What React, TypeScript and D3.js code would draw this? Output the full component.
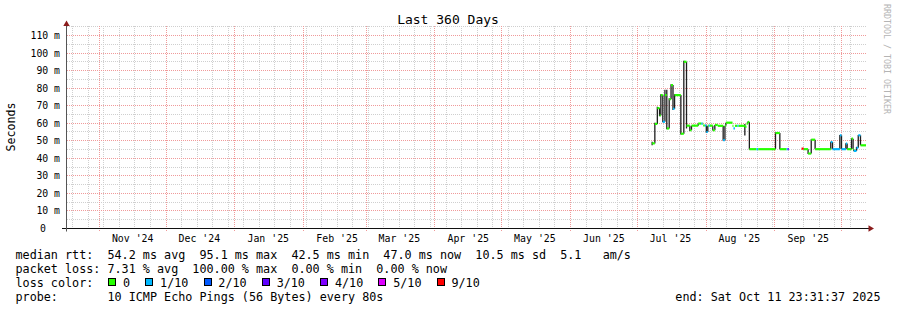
import React from 'react';
import * as d3 from 'd3';

const W = 897;
const H = 310;
const END_TIME = '2025-10-11 23:31:37';
const RANGE_DAYS = 360;
const TITLE = 'Last 360 Days';
const Y_TITLE = 'Seconds';
const WATERMARK = 'RRDTOOL / TOBI OETIKER';
const Y_MAX_MS = 115.1;
const Y_MAJOR_MS = [10, 20, 30, 40, 50, 60, 70, 80, 90, 100, 110];
const Y_MINOR_MS = [5, 15, 25, 35, 45, 55, 65, 75, 85, 95, 105, 115];
const Y_TICK_MS = [0, 10, 20, 30, 40, 50, 60, 70, 80, 90, 100, 110];
const Y_TICK_LABELS = ['0', '10 m', '20 m', '30 m', '40 m', '50 m', '60 m', '70 m', '80 m', '90 m', '100 m', '110 m'];

const LOSS_LABELS = ['0', '1/10', '2/10', '3/10', '4/10', '5/10', '9/10'];
const LOSS_COLORS = ['#26ff00', '#00b8ff', '#0059ff', '#5e00ff', '#7e00ff', '#dd00ff', '#ff0000'];

const LEGEND_LINES = [
  'median rtt:  54.2 ms avg  95.1 ms max  42.5 ms min  47.0 ms now  10.5 ms sd  5.1   am/s',
  'packet loss: 7.31 % avg  100.00 % max  0.00 % min  0.00 % now',
  'loss color:',
  'probe:       10 ICMP Echo Pings (56 Bytes) every 80s',
];
const END_LABEL = 'end: Sat Oct 11 23:31:37 2025';

// samples: time, median rtt (ms), lost pings (of 10), smoke low / high (ms)
const SAMPLE_TIMES = [
  '2025-07-07 18:00', '2025-07-08 23:00', '2025-07-10 02:00', '2025-07-11 02:00', '2025-07-11 16:00',
  '2025-07-12 13:00', '2025-07-13 12:00', '2025-07-14 08:00', '2025-07-15 10:00', '2025-07-16 06:00',
  '2025-07-17 03:00', '2025-07-17 20:00', '2025-07-20 16:00', '2025-07-22 00:00', '2025-07-23 05:00',
  '2025-07-24 17:00', '2025-07-25 11:00', '2025-07-28 11:00', '2025-07-29 21:00', '2025-07-30 12:00',
  '2025-07-30 17:00', '2025-07-31 11:00', '2025-08-01 03:00', '2025-08-01 19:00', '2025-08-02 06:00',
  '2025-08-02 18:00', '2025-08-04 01:00', '2025-08-04 23:00', '2025-08-06 07:00', '2025-08-08 17:00',
  '2025-08-09 12:00', '2025-08-09 22:00', '2025-08-12 22:00', '2025-08-13 08:00', '2025-08-14 00:00',
  '2025-08-15 02:00', '2025-08-15 16:00', '2025-08-18 11:00', '2025-08-19 05:00', '2025-08-19 20:00',
  '2025-08-20 12:00', '2025-08-23 16:00', '2025-08-24 12:00', '2025-09-01 06:00', '2025-09-03 05:00',
  '2025-09-06 05:00', '2025-09-06 18:00', '2025-09-07 06:00', '2025-09-12 23:00', '2025-09-14 00:00',
  '2025-09-15 22:00', '2025-09-17 08:00', '2025-09-19 02:00', '2025-09-26 03:00', '2025-09-26 22:00',
  '2025-09-30 05:00', '2025-09-30 23:00', '2025-10-02 22:00', '2025-10-03 12:00', '2025-10-05 11:00',
  '2025-10-06 04:00', '2025-10-06 12:00', '2025-10-07 17:00', '2025-10-08 12:00', '2025-10-09 12:00',
];
const MEDIAN_MS = [
  48.5, 59.6, 68.6, 64.4, 76.0,
  60.8, 76.0, 57.0, 73.7, 81.7,
  68.2, 76.0, 54.0, 95.0, 58.6,
  56.0, 58.6, 59.8, 59.8, 59.8,
  58.7, 58.7, 55.0, 58.6, 58.6,
  58.6, 56.0, 59.0, 58.5, 50.3,
  58.5, 60.3, 58.5, 57.0, 58.5,
  58.5, 58.5, 58.0, 59.8, 60.7,
  45.2, 45.2, 45.2, 54.4, 45.2,
  45.2, 45.2, null, 45.5, 45.2,
  42.7, 50.6, 45.2, 49.3, 45.2,
  53.1, 45.2, 48.4, 45.2, 51.2,
  45.2, 44.2, 46.0, 53.1, 47.4,
];
const LOSS_COUNT = [
  0, 0, 0, 0, 0,
  1, 0, 0, 0, 0,
  1, 0, 0, 0, 0,
  0, 0, 0, 1, 0,
  0, 1, 1, 0, 1,
  0, 0, 0, 0, 1,
  0, 0, 0, 1, 0,
  1, 0, 0, 0, 0,
  0, 1, 0, 0, 0,
  1, 3, null, 9, 0,
  0, 0, 0, 1, 1,
  1, 1, 1, 0, 0,
  0, 1, 1, 1, 0,
];
const SMOKE_LO_MS = [
  47.5, 48.5, 59.6, 64.0, 64.4,
  60.5, 60.8, 56.5, 57.0, 73.7,
  67.5, 68.2, 53.5, 54.0, 57.0,
  55.5, 56.0, 58.6, null, null,
  null, null, 54.5, 55.0, null,
  null, 55.8, 56.0, null, 50.0,
  50.3, 58.5, null, null, null,
  null, null, 53.0, null, 59.8,
  45.0, null, null, 45.2, 45.2,
  null, null, null, null, null,
  42.5, 42.7, 45.2, 45.2, 45.2,
  45.2, 45.2, 45.2, 45.2, 45.2,
  45.2, 44.0, 44.2, 46.0, 47.4,
];
const SMOKE_HI_MS = [
  49.5, 60.2, 69.4, 68.6, 76.5,
  76.0, 79.0, 79.0, 74.2, 82.2,
  81.7, 76.5, 76.0, 95.6, 95.0,
  58.6, 58.6, 59.8, null, null,
  null, null, 58.7, 58.6, null,
  null, 58.6, 59.0, null, 58.5,
  58.5, 60.3, null, null, null,
  null, null, 59.6, null, 60.9,
  60.7, null, null, 54.8, 54.4,
  null, null, null, null, null,
  45.2, 50.8, 50.6, 49.5, 49.3,
  53.3, 53.1, 48.6, 48.4, 51.4,
  51.2, 45.2, 46.5, 53.3, 53.1,
];

const FONT = '"DejaVu Sans Mono", monospace';

function lossIndex(c: number): number {
  if (c <= 4) return c;
  if (c <= 8) return 5;
  return 6;
}

const crisp = (v: number) => Math.floor(v) + 0.5;

export default function App() {
  const parse = d3.timeParse('%Y-%m-%d %H:%M');
  const parseEnd = d3.timeParse('%Y-%m-%d %H:%M:%S');
  const end = parseEnd(END_TIME) as Date;
  const start = d3.timeDay.offset(end, -RANGE_DAYS);

  const X0 = 66;
  const X1 = 866;
  const Y0 = 228.5;
  const YT = 26;

  const x = d3.scaleTime().domain([start, end]).range([X0, X1]);
  const y = d3.scaleLinear().domain([0, Y_MAX_MS]).range([Y0, YT + 0.5]);

  const times = SAMPLE_TIMES.map((s) => parse(s) as Date);

  const weeks = d3.timeSunday.range(start, end);
  const months = d3.timeMonth.range(start, end);
  const labelMonths = d3.timeMonth
    .range(d3.timeMonth.floor(start), end)
    .map((m) => ({ m, c: d3.timeDay.offset(m, 15) }))
    .filter((d) => d.c >= start && d.c <= end);
  const fmt = d3.timeFormat("%b '%y");

  const minorColor = '#cfcfcf';
  const majorColor = '#f09a9a';

  const charW = 7.07;
  const boxX: number[] = [];
  let bx = 108.3;
  LOSS_LABELS.forEach((l) => {
    boxX.push(bx);
    bx += 14.7 + charW * l.length + 15.3;
  });

  const baselines = [259, 273, 287, 301];

  return (
    <svg
      width={W}
      height={H}
      viewBox={`0 0 ${W} ${H}`}
      style={{ position: 'absolute', left: 0, top: 0, background: '#fff' }}
    >
      <rect x={0} y={0} width={W} height={H} fill="#ffffff" />

      {Y_MINOR_MS.filter((v) => y(v) >= YT).map((v) => (
        <line key={'ym' + v} x1={X0 + 1} x2={X1} y1={crisp(y(v))} y2={crisp(y(v))}
          stroke={minorColor} strokeWidth={1} strokeDasharray="1,1" />
      ))}
      {weeks.map((d, i) => (
        <line key={'xm' + i} x1={crisp(x(d))} x2={crisp(x(d))} y1={YT} y2={228}
          stroke={minorColor} strokeWidth={1} strokeDasharray="1,1" />
      ))}
      {Y_MAJOR_MS.map((v) => (
        <line key={'yM' + v} x1={X0 + 1} x2={X1} y1={crisp(y(v))} y2={crisp(y(v))}
          stroke={majorColor} strokeWidth={1} strokeDasharray="1,1" />
      ))}
      {months.map((d, i) => (
        <line key={'xM' + i} x1={crisp(x(d))} x2={crisp(x(d))} y1={YT} y2={232}
          stroke={majorColor} strokeWidth={1} strokeDasharray="1,1" />
      ))}

      {times.map((t, i) => {
        const lo = SMOKE_LO_MS[i];
        const hi = SMOKE_HI_MS[i];
        if (lo == null || hi == null) return null;
        return (
          <line key={'s' + i} x1={x(t)} x2={x(t)} y1={y(lo)} y2={y(hi)}
            stroke="#1e1e1e" strokeWidth={1.3} />
        );
      })}

      {times.map((t, i) => {
        const m = MEDIAN_MS[i];
        const l = LOSS_COUNT[i];
        if (m == null || l == null) return null;
        const tNext = i + 1 < times.length ? times[i + 1] : end;
        return (
          <line key={'m' + i} x1={x(t)} x2={x(tNext)} y1={y(m)} y2={y(m)}
            stroke={LOSS_COLORS[lossIndex(l)]} strokeWidth={2.2} />
        );
      })}

      <line x1={62} x2={869} y1={Y0} y2={Y0} stroke="#111" strokeWidth={1} />
      <line x1={X0 + 0.5} x2={X0 + 0.5} y1={Y0 + 3} y2={24} stroke="#555" strokeWidth={1} />
      <path d={`M${X0 + 0.5 - 3.2},${26} L${X0 + 0.5 + 3.2},${26} L${X0 + 0.5},${20.5} Z`} fill="#8b1c1c" />
      <path d={`M${868.5},${Y0 - 3.2} L${868.5},${Y0 + 3.2} L${874},${Y0} Z`} fill="#8b1c1c" />

      {Y_TICK_MS.map((v, i) => (
        <text key={'yl' + v} x={Y_TICK_LABELS[i].includes('m') ? 60 : 46} y={crisp(y(v))} dy="0.36em"
          textAnchor="end" fontFamily={FONT} fontSize={9.8} fill="#000">
          {Y_TICK_LABELS[i]}
        </text>
      ))}

      {labelMonths.map((d, i) => (
        <text key={'xl' + i} x={x(d.c)} y={241.5} textAnchor="middle"
          fontFamily={FONT} fontSize={9.9} fill="#000">
          {fmt(d.m)}
        </text>
      ))}

      <text x={448} y={24} textAnchor="middle" fontFamily={FONT} fontSize={13} fill="#000">
        {TITLE}
      </text>
      <text transform="translate(15,127) rotate(-90)" textAnchor="middle"
        fontFamily={FONT} fontSize={11.6} fill="#000">
        {Y_TITLE}
      </text>
      <text transform="translate(884,4) rotate(90)" textAnchor="start"
        fontFamily={FONT} fontSize={8.3} fill="#b4b4b4">
        {WATERMARK}
      </text>

      {LEGEND_LINES.map((s, i) => (
        <text key={'lg' + i} x={15.5} y={baselines[i]} fontFamily={FONT} fontSize={11.75}
          fill="#000" style={{ whiteSpace: 'pre' }}>
          {s}
        </text>
      ))}
      {LOSS_LABELS.map((l, i) => (
        <g key={'lb' + i}>
          <rect x={Math.round(boxX[i]) + 0.5} y={278.5} width={7} height={7}
            fill={LOSS_COLORS[i]} stroke="#000" strokeWidth={1} />
          <text x={boxX[i] + 14.7} y={baselines[2]} fontFamily={FONT} fontSize={11.75} fill="#000">
            {l}
          </text>
        </g>
      ))}
      <text x={880.5} y={baselines[3]} textAnchor="end" fontFamily={FONT} fontSize={11.75} fill="#000">
        {END_LABEL}
      </text>
    </svg>
  );
}
